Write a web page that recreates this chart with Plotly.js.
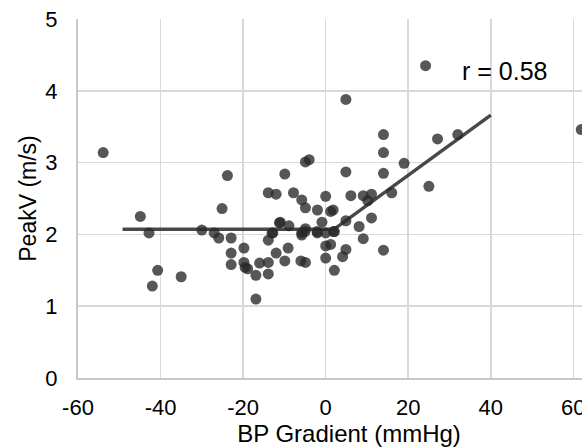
<!DOCTYPE html>
<html><head><meta charset="utf-8">
<script src="https://cdn.plot.ly/plotly-3.0.1.min.js"></script>
<style>html,body{margin:0;padding:0;background:#fff;overflow:hidden}</style>
</head><body><div id="chart" style="width:620px;height:447px"></div>
<script>
// Scatter points: BP gradient (mmHg) vs PeakV (m/s)
const gradient = [-53.9,-44.9,-42.8,-40.7,-42.0,-35.0,-30.0,-27.0,-25.9,-25.1,-23.8,-22.9,-22.9,-22.9,-19.8,-19.8,-19.5,-18.9,-16.9,-16.9,-16.0,-13.9,-13.9,-13.9,-13.9,-12.8,-12.0,-12.0,-11.0,-9.9,-9.9,-9.1,-8.9,-7.8,-5.8,-5.8,-5.8,-6.0,-4.9,-4.9,-4.9,-4.9,-4.0,-2.0,-2.0,-0.9,0.0,0.0,0.0,0.0,1.2,1.2,1.8,2.1,2.1,4.1,4.9,4.9,4.9,4.9,6.1,8.1,9.1,9.1,10.2,11.1,11.1,14.0,14.0,14.0,14.0,16.0,19.0,24.2,25.0,27.1,32.0,61.9,-11.2,-13.0,-2.1,1.9,-5.0];
const peakV = [3.14,2.25,2.02,1.50,1.28,1.41,2.06,2.02,1.95,2.36,2.82,1.95,1.74,1.58,1.81,1.61,1.54,1.52,1.43,1.10,1.60,1.45,1.61,1.92,2.58,2.02,2.56,1.74,2.17,1.63,2.84,1.81,2.12,2.58,2.48,2.02,1.99,1.63,1.61,2.37,2.08,3.01,3.04,2.34,2.02,2.17,2.53,2.02,1.84,1.67,2.32,1.86,2.34,2.04,1.50,1.69,3.88,2.87,2.19,1.79,2.54,2.11,1.94,2.54,2.47,2.56,2.23,3.39,3.14,2.85,1.78,2.58,2.99,4.35,2.67,3.33,3.39,3.46,2.16,2.02,2.04,2.04,2.04];
// Piecewise fit line
const fitX = [-49.2, 2.0, 40.0];
const fitY = [2.07, 2.07, 3.66];
const xTicks = [-60,-40,-20,0,20,40,60];
const yTicks = [0,1,2,3,4,5];
const rLabel = "r = 0.58";

const font = "Liberation Sans, Arial, sans-serif";
const data = [
  {x: gradient, y: peakV, type: "scatter", mode: "markers",
   marker: {size: 11, color: "rgba(40,40,40,0.78)", line: {width: 0}},
   cliponaxis: true, hoverinfo: "skip"},
  {x: fitX, y: fitY, type: "scatter", mode: "lines",
   line: {color: "rgba(40,40,40,0.85)", width: 3.5}, hoverinfo: "skip"}
];
const layout = {
  width: 620, height: 447,
  margin: {l: 78, r: 0, t: 19, b: 69, pad: 0},
  paper_bgcolor: "#fff", plot_bgcolor: "#fff",
  showlegend: false,
  font: {family: font, color: "#000"},
  xaxis: {range: [-60, 71.3], tickvals: xTicks, ticktext: xTicks.map(String),
    showgrid: true, gridcolor: "#d9d9d9", gridwidth: 1.5,
    zeroline: false, showline: true, linecolor: "#c8c8c8", linewidth: 2,
    ticks: "", ticklabelstandoff: 9, tickfont: {size: 22, family: font, color: "#000"},
    title: {text: "BP Gradient (mmHg)", font: {size: 24, family: font, color: "#000"}, standoff: 9}},
  yaxis: {range: [0, 5], tickvals: yTicks, ticktext: yTicks.map(String),
    showgrid: true, gridcolor: "#d9d9d9", gridwidth: 1.5,
    zeroline: false, showline: true, linecolor: "#c8c8c8", linewidth: 2,
    ticks: "", ticklabelstandoff: 14, tickfont: {size: 22, family: font, color: "#000"},
    title: {text: "PeakV (m/s)", font: {size: 23, family: font, color: "#000"}, standoff: 2}},
  annotations: [{x: 43.2, y: 4.27, xref: "x", yref: "y", text: rLabel, showarrow: false,
    font: {size: 25, family: font, color: "#000"}, xanchor: "center", yanchor: "middle"}]
};
Plotly.newPlot("chart", data, layout, {staticPlot: true, displayModeBar: false});
</script></body></html>
